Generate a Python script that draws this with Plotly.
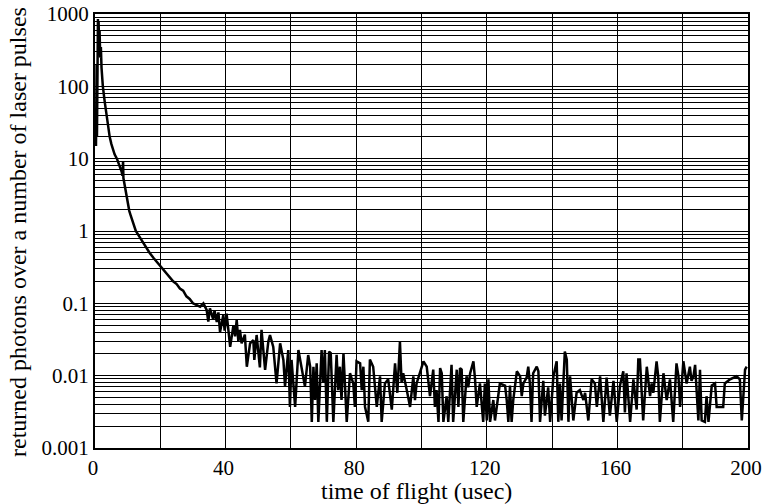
import plotly.graph_objects as go

# time of flight (usec)
time_usec = [
    0.3, 0.5, 0.6, 0.8, 0.9, 1.0, 1.1, 1.3, 1.4, 1.6, 1.8, 2.0, 2.4, 3.0, 3.5, 4.0, 4.5,
    5.0, 5.5, 6.0, 6.7, 7.5, 8.2, 8.4, 8.6, 8.7, 9.0, 9.5, 10.0, 10.5, 11.0, 12.0, 12.5,
    13.5, 14.5, 15.5, 16.7, 18.0, 19.0, 20.0, 21.0, 22.0, 23.0, 24.0, 25.0, 26.0, 27.0,
    28.0, 29.0, 30.0, 31.0,
    32.2, 33.2, 34.2, 34.7, 35.2, 36.2, 36.6, 37.3, 37.8, 38.3, 39.3, 39.7, 40.3, 40.8,
    41.4, 42.4, 42.9, 43.4, 43.9, 44.4, 44.9, 45.9, 46.5, 47.5, 48.5, 48.8, 49.5, 50.5,
    51.0, 52.1, 53.1, 53.6, 54.6, 55.6, 56.7, 57.7, 58.2, 59.2, 59.7, 60.2, 61.3, 62.3,
    63.3, 64.3, 65.3,
    65.9, 66.4, 66.9, 67.4, 67.9, 68.4, 69.4, 69.9, 70.4, 71.0, 71.7, 72.2, 73.0, 74.0,
    74.5, 75.0, 75.5, 76.1, 77.1, 78.1, 79.1, 79.6, 80.1, 81.2, 81.7, 82.2, 82.7, 83.7,
    84.2, 85.2, 86.3, 87.3, 87.8, 88.8, 89.8, 90.9, 91.9, 92.6, 93.4, 93.9, 94.4, 95.5,
    96.5, 97.5, 98.0, 98.5, 99.5,
    100.05, 100.6, 101.6, 102.6, 103.6, 104.1, 104.6, 105.2, 105.7, 106.2, 106.7, 107.7,
    108.2, 109.2, 109.7, 110.8, 111.3, 111.8, 112.3, 112.8, 113.8, 114.3, 114.9, 115.9,
    116.4, 116.9, 117.9, 118.9, 119.4, 120.0, 120.5, 121.0, 122.0, 122.5, 124.0, 125.6,
    126.1, 126.6, 127.1, 127.6, 128.1, 129.2, 130.2, 130.7, 131.2, 132.2, 132.7, 133.2,
    133.7, 134.2, 135.3, 135.8, 136.3, 137.3, 137.8, 138.8, 139.4, 140.4, 141.4, 141.9,
    142.4, 142.9, 143.9, 144.5, 145.0, 145.5, 146.5, 147.5, 148.5, 149.6, 150.1, 151.1,
    152.1, 153.1, 153.7, 154.7, 155.7, 156.7, 157.7, 158.8, 159.8, 160.8, 161.8, 162.3,
    162.8, 163.9, 164.9, 165.9, 166.4,
    166.9, 167.9, 169.0, 170.0, 170.5, 171.0, 172.0, 172.5, 173.0, 174.1, 175.1, 176.1,
    177.1, 178.1, 178.7, 179.2, 180.2, 181.2, 182.2, 182.7, 183.3, 183.8, 184.8, 185.3,
    185.8, 186.8, 187.3, 187.9, 188.9, 189.9, 190.4, 192.4, 192.9, 194.5, 196.5, 197.5,
    198.1, 199.1, 199.6,
]

# returned photons over a number of laser pulses
photons = [
    15, 200, 20, 700, 850, 400, 800, 300, 600, 250, 350, 180, 100, 60, 40, 28, 20,
    16, 13, 11.5, 10, 8, 6.5, 5.8, 9.2, 5.4, 4.5, 3.2, 2.5, 1.9, 1.6, 1.15, 1.0,
    0.85, 0.72, 0.6, 0.5, 0.42, 0.37, 0.33, 0.29, 0.26, 0.23, 0.2, 0.185, 0.16, 0.15,
    0.125, 0.115, 0.1, 0.095,
    0.09, 0.1, 0.081, 0.056, 0.085, 0.06, 0.08, 0.055, 0.075, 0.04, 0.069, 0.042, 0.072, 0.045,
    0.025, 0.05, 0.035, 0.059, 0.03, 0.043, 0.028, 0.037, 0.0133, 0.028, 0.031, 0.0165, 0.0365, 0.013,
    0.043, 0.012, 0.03, 0.0365, 0.025, 0.0078, 0.028, 0.0165, 0.0071, 0.0226, 0.0037, 0.0165, 0.0037, 0.0226,
    0.012, 0.0071, 0.0193,
    0.0133, 0.0023, 0.0133, 0.0046, 0.0148, 0.0023, 0.0226, 0.008, 0.0226, 0.0023, 0.0215, 0.0205, 0.0023, 0.0194,
    0.0063, 0.0133, 0.0046, 0.0205, 0.0023, 0.0108, 0.0078, 0.0037, 0.0158, 0.0148, 0.0063, 0.0133, 0.0037, 0.0023,
    0.0167, 0.0133, 0.0037, 0.0098, 0.0023, 0.0078, 0.0089, 0.0034, 0.0148, 0.0058, 0.0295, 0.008, 0.0108, 0.0063,
    0.0037, 0.0098, 0.0046, 0.0078, 0.0108,
    0.0133, 0.0158, 0.0133, 0.0052, 0.0121, 0.0037, 0.0063, 0.0023, 0.0127, 0.0108, 0.0023, 0.0052,
    0.0023, 0.0141, 0.0023, 0.0121, 0.0037, 0.0127, 0.0121, 0.0023, 0.0098, 0.0069, 0.0108, 0.0158,
    0.0089, 0.0037, 0.0078, 0.0023, 0.0078, 0.0024, 0.0089, 0.0023, 0.0046, 0.0024, 0.0078, 0.0073,
    0.0046, 0.0023, 0.0073, 0.0023, 0.0046, 0.0115, 0.0098, 0.0052, 0.0078, 0.0094, 0.0133, 0.0078,
    0.0023, 0.0108, 0.0133, 0.0115, 0.0023, 0.0085, 0.0028, 0.0069, 0.0023, 0.0098, 0.0158, 0.0023,
    0.0078, 0.0024, 0.0215, 0.0167, 0.0023, 0.0098, 0.0024, 0.0058, 0.0063, 0.0046, 0.0058, 0.0024,
    0.0089, 0.0078, 0.0037, 0.0098, 0.0023, 0.0094, 0.0028, 0.0085, 0.0023, 0.0073, 0.0115, 0.0031,
    0.0108, 0.0023, 0.0089, 0.0034, 0.0167,
    0.0167, 0.0024, 0.0133, 0.0052, 0.0078, 0.0058, 0.0158, 0.0098, 0.0023, 0.0108, 0.0046, 0.0089,
    0.0023, 0.0148, 0.0098, 0.0037, 0.0158, 0.0078, 0.0133, 0.0085, 0.0098, 0.0141, 0.0024, 0.0121,
    0.0024, 0.0023, 0.0052, 0.0023, 0.0073, 0.0078, 0.0037, 0.0037, 0.0078, 0.0089, 0.0098, 0.0089,
    0.0024, 0.0121, 0.0133,
]

x_ticks = [0, 20, 40, 60, 80, 100, 120, 140, 160, 180, 200]
x_tick_labels = ["0", "", "40", "", "80", "", "120", "", "160", "", "200"]
decade_labels = ["0.001", "0.01", "0.1", "1", "10", "100", "1000"]
x_title = "time of flight (usec)"
y_title = "returned photons over a number of laser pulses"

y_ticks, y_tick_labels = [], []
for i, lab in enumerate(decade_labels):
    base = 10.0 ** (i - 3)
    mults = range(1, 10) if i < len(decade_labels) - 1 else range(1, 2)
    for m in mults:
        y_ticks.append(m * base)
        y_tick_labels.append(lab if m == 1 else "")

FONT = "Liberation Serif"

fig = go.Figure(go.Scatter(
    x=time_usec, y=photons, mode="lines",
    line=dict(color="black", width=2.5),
    showlegend=False,
))

fig.update_layout(
    width=763, height=504,
    margin=dict(l=95, r=15, t=14, b=56),
    paper_bgcolor="white", plot_bgcolor="white",
    font=dict(family=FONT, size=21, color="black"),
    annotations=[
        dict(text=x_title, xref="paper", yref="paper", x=0.5, y=0,
             xanchor="center", yanchor="middle", xshift=-5, yshift=-43,
             showarrow=False, font=dict(family=FONT, size=24, color="black")),
        dict(text=y_title, xref="paper", yref="paper", x=0, y=0.5,
             xanchor="center", yanchor="middle", xshift=-77, yshift=-1,
             textangle=-90, showarrow=False,
             font=dict(family=FONT, size=24, color="black")),
    ],
)
fig.update_xaxes(
    range=[0, 200], tickvals=x_ticks, ticktext=x_tick_labels,
    showgrid=True, gridcolor="black", gridwidth=1,
    showline=True, linecolor="black", linewidth=2, mirror=True,
    ticks="", zeroline=False, automargin=False, ticklabeloverflow="allow",
    ticklabelshift=-2,
    tickfont=dict(family=FONT, size=21),
)
fig.update_yaxes(
    type="log", range=[-3, 3], tickvals=y_ticks, ticktext=y_tick_labels,
    showgrid=True, gridcolor="black", gridwidth=1,
    showline=True, linecolor="black", linewidth=2, mirror=True,
    ticks="", zeroline=False, ticklabelstandoff=0, automargin=False,
    ticklabeloverflow="allow",
    tickfont=dict(family=FONT, size=21),
)

fig.write_html(
    "out.html",
    config={"displayModeBar": False},
    post_script="document.body.style.margin='0';document.body.style.overflow='hidden';",
)
